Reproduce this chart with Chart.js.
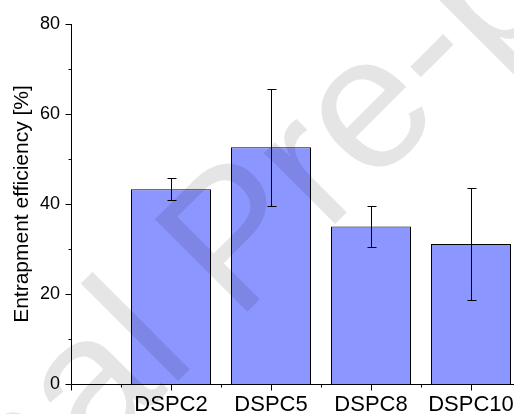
<!DOCTYPE html>
<html>
<head>
<meta charset="utf-8">
<script src="https://cdn.jsdelivr.net/npm/chart.js@4"></script>
<style>
  html, body { margin: 0; padding: 0; background: #fff; }
</style>
</head>
<body>
<canvas id="myChart" width="514" height="414"></canvas>
<script>
const categorias = ['DSPC2', 'DSPC5', 'DSPC8', 'DSPC10'];
const posiciones = [1, 2, 3, 4];
const eficiencia = [43.3, 52.6, 35.0, 31.1];
const error = [2.5, 13.0, 4.5, 12.5];
const ticksMenoresX = [0.5, 1.5, 2.5, 3.5];
const ticksMenoresY = [10, 30, 50, 70];

const fuente = '"Liberation Sans", Arial, sans-serif';

// barras de error, con la escala del grafico
const barrasError = {
  id: 'barrasError',
  afterDatasetsDraw(chart) {
    const { ctx, scales: { x, y } } = chart;
    ctx.save();
    ctx.strokeStyle = '#000';
    ctx.lineWidth = 1;
    ctx.beginPath();
    posiciones.forEach((p, i) => {
      const px = Math.round(x.getPixelForValue(p)) + 0.5;
      const arriba = Math.round(y.getPixelForValue(eficiencia[i] + error[i])) + 0.5;
      const abajo = Math.round(y.getPixelForValue(eficiencia[i] - error[i])) + 0.5;
      ctx.moveTo(px, arriba); ctx.lineTo(px, abajo);
      ctx.moveTo(px - 4, arriba); ctx.lineTo(px + 5, arriba);
      ctx.moveTo(px - 4, abajo); ctx.lineTo(px + 5, abajo);
    });
    ctx.stroke();
    ctx.restore();
  }
};

// ejes y marcas (mayores y menores)
const marcas = {
  id: 'marcas',
  afterDraw(chart) {
    const { ctx, scales: { x, y } } = chart;
    const x0 = Math.round(x.left) + 0.5;
    const y0 = Math.round(y.bottom) + 0.5;
    ctx.save();
    ctx.strokeStyle = '#000';
    ctx.lineWidth = 1;
    ctx.beginPath();
    ctx.moveTo(x0, Math.round(y.top)); ctx.lineTo(x0, y0);
    ctx.moveTo(x0, y0); ctx.lineTo(x.right, y0);
    y.ticks.forEach(t => {
      const py = Math.round(y.getPixelForValue(t.value)) + 0.5;
      ctx.moveTo(x0 - 6, py); ctx.lineTo(x0, py);
    });
    ticksMenoresY.forEach(v => {
      const py = Math.round(y.getPixelForValue(v)) + 0.5;
      ctx.moveTo(x0 - 3, py); ctx.lineTo(x0, py);
    });
    x.ticks.forEach(t => {
      const px = Math.round(x.getPixelForValue(t.value)) + 0.5;
      ctx.moveTo(px, y0); ctx.lineTo(px, y0 + 6);
    });
    ticksMenoresX.forEach(v => {
      const px = Math.round(x.getPixelForValue(v)) + 0.5;
      ctx.moveTo(px, y0); ctx.lineTo(px, y0 + 3);
    });
    ctx.stroke();
    ctx.restore();
  }
};

// marca de agua de la revista
const marcaAgua = {
  id: 'marcaAgua',
  afterDraw(chart) {
    const ctx = chart.ctx;
    const tam = 190;
    ctx.save();
    ctx.font = tam + 'px ' + fuente;
    const avance = ctx.measureText('Journa').width + 0.111 * tam;
    const c = Math.SQRT1_2;
    ctx.translate(184 - avance * c, 375 + avance * c);
    ctx.rotate(-Math.PI / 4);
    ctx.fillStyle = 'rgba(0,0,0,0.1)';
    ctx.fillText('Journal Pre-proof', 0, 0);
    ctx.restore();
  }
};

Chart.defaults.color = '#000';
Chart.defaults.font.family = fuente;

const ctx = document.querySelector('#myChart');
const chart = new Chart(ctx, {
  type: 'bar',
  data: {
    datasets: [{
      label: 'Entrapment efficiency',
      data: posiciones.map((p, i) => ({ x: p, y: eficiencia[i] })),
      backgroundColor: '#8C96FF',
      borderColor: '#000',
      borderWidth: 1,
      categoryPercentage: 1.0,
      barPercentage: 0.8
    }]
  },
  options: {
    responsive: false,
    animation: false,
    layout: { padding: { top: 24, right: 0, left: 0, bottom: 0 } },
    plugins: {
      legend: { display: false },
      tooltip: { enabled: false }
    },
    scales: {
      x: {
        type: 'linear',
        offset: false,
        min: 0,
        max: 4.43,
        grid: { display: false, drawTicks: false, offset: false },
        border: { display: false },
        afterBuildTicks: s => { s.ticks = [0, ...posiciones].map(v => ({ value: v })); },
        afterFit: s => { s.height = 30; s.paddingLeft = 0; s.paddingRight = 0; },
        ticks: {
          padding: 8,
          maxRotation: 0,
          autoSkip: false,
          font: { size: 22 },
          callback: v => {
            const i = posiciones.indexOf(v);
            return i >= 0 ? categorias[i] : '';
          }
        }
      },
      y: {
        min: 0,
        max: 80,
        grid: { display: false, drawTicks: false },
        border: { display: false },
        afterFit: s => { s.width = 71; },
        ticks: { stepSize: 20, padding: 11, font: { size: 18 } },
        title: {
          display: true,
          text: 'Entrapment efficiency [%]',
          font: { size: 21 },
          padding: { top: 10, bottom: 0 }
        }
      }
    }
  },
  plugins: [barrasError, marcas, marcaAgua]
});
</script>
</body>
</html>
